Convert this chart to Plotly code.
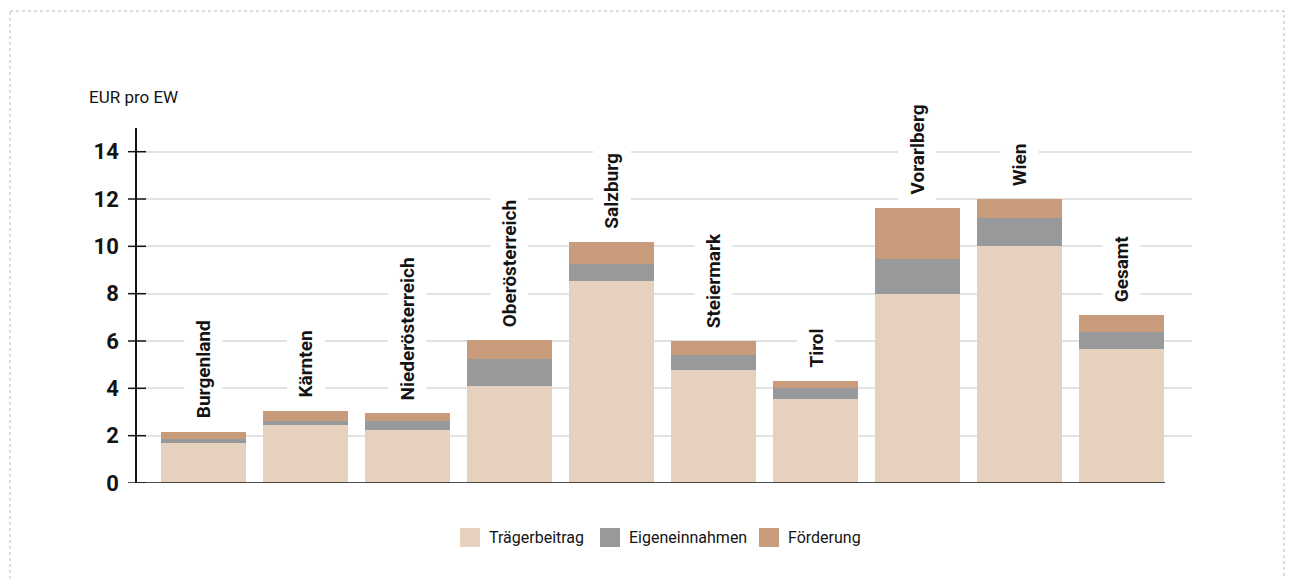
import plotly.graph_objects as go

categories = ["Burgenland", "Kärnten", "Niederösterreich", "Oberösterreich", "Salzburg",
              "Steiermark", "Tirol", "Vorarlberg", "Wien", "Gesamt"]
traegerbeitrag = [1.67, 2.43, 2.26, 4.08, 8.53, 4.76, 3.57, 7.98, 10.01, 5.65]
eigeneinnahmen = [0.21, 0.21, 0.38, 1.14, 0.72, 0.63, 0.43, 1.48, 1.19, 0.71]
foerderung = [0.29, 0.42, 0.30, 0.81, 0.93, 0.60, 0.33, 2.16, 0.80, 0.73]
series_names = ["Trägerbeitrag", "Eigeneinnahmen", "Förderung"]
series_colors = ["#e5d1bd", "#98999b", "#c89b7b"]
y_ticks = [0, 2, 4, 6, 8, 10, 12, 14]
y_title = "EUR pro EW"

FONT = "Roboto, Liberation Sans, sans-serif"
DARK = "#141414"

W, H = 1285, 571
L, R, T, B = 129, 101, 120, 96
PW, PH = W - L - R, H - T - B


def px_x(fx):
    return (fx - L) / PW


def px_y(fy):
    return (H - B - fy) / PH


fig = go.Figure()
for name, vals, col in zip(series_names, [traegerbeitrag, eigeneinnahmen, foerderung], series_colors):
    fig.add_trace(go.Bar(x=categories, y=vals, name=name, showlegend=False,
                         marker=dict(color=col, line=dict(width=0))))

totals = [a + b + c for a, b, c in zip(traegerbeitrag, eigeneinnahmen, foerderung)]
for cat, tot in zip(categories, totals):
    fig.add_annotation(x=cat, y=tot, text=cat, textangle=-90, showarrow=False,
                       xanchor="center", yanchor="bottom", yshift=5, bgcolor="white", borderpad=7,
                       font=dict(family=FONT, size=19, color=DARK, weight="bold"))

x0 = -0.652
shapes = []
for t in y_ticks:
    shapes.append(dict(type="line", xref="paper", xsizemode="pixel", xanchor=0, x0=-9, x1=9,
                       yref="y", y0=t, y1=t, line=dict(color=DARK, width=1.5)))
shapes.append(dict(type="line", xref="x", x0=x0, x1=9.425, yref="y", y0=0, y1=0,
                   line=dict(color=DARK, width=1.5)))
# dashed frame
shapes.append(dict(type="rect", xref="paper", yref="paper", xsizemode="pixel", ysizemode="pixel",
                   xanchor=0, yanchor=1, x0=2 - L, x1=1276 - L, y0=T - 3, y1=-(600 - T),
                   line=dict(color="#b8b8b8", width=1, dash="3px,3px")))

# manual legend
legend_x = [452, 592, 751]
for name, col, lx in zip(series_names, series_colors, legend_x):
    shapes.append(dict(type="rect", xref="paper", yref="paper", xsizemode="pixel", ysizemode="pixel",
                       xanchor=0, yanchor=0, x0=lx - L, x1=lx + 20 - L,
                       y0=(H - B) - 520, y1=(H - B) - 539,
                       fillcolor=col, line=dict(width=0)))
    fig.add_annotation(xref="paper", yref="paper", x=px_x(lx + 27), y=px_y(529.5),
                       xanchor="left", yanchor="middle", text=name, showarrow=False,
                       font=dict(family=FONT, size=16, color=DARK))

fig.add_annotation(xref="paper", yref="paper", x=px_x(79), y=px_y(89), xanchor="left",
                   yanchor="middle", text=y_title, showarrow=False,
                   font=dict(family=FONT, size=17, color=DARK))

fig.update_layout(
    width=W, height=H,
    margin=dict(l=L, r=R, t=T, b=B),
    paper_bgcolor="white", plot_bgcolor="white",
    barmode="stack", bargap=0.167,
    font=dict(family=FONT, color=DARK),
    showlegend=False,
    shapes=shapes,
    xaxis=dict(range=[x0, 9.69], showticklabels=False, showgrid=False, zeroline=False,
               showline=False, ticks=""),
    yaxis=dict(range=[0, 15], tickvals=y_ticks, showgrid=True, gridcolor="#e2e2e2", gridwidth=2,
               zeroline=False, showline=True, linecolor=DARK, linewidth=1.5, ticks="",
               tickfont=dict(family=FONT, size=22, color=DARK, weight="bold"),
               ticklabelstandoff=12),
)

fig.write_html("out.html")
